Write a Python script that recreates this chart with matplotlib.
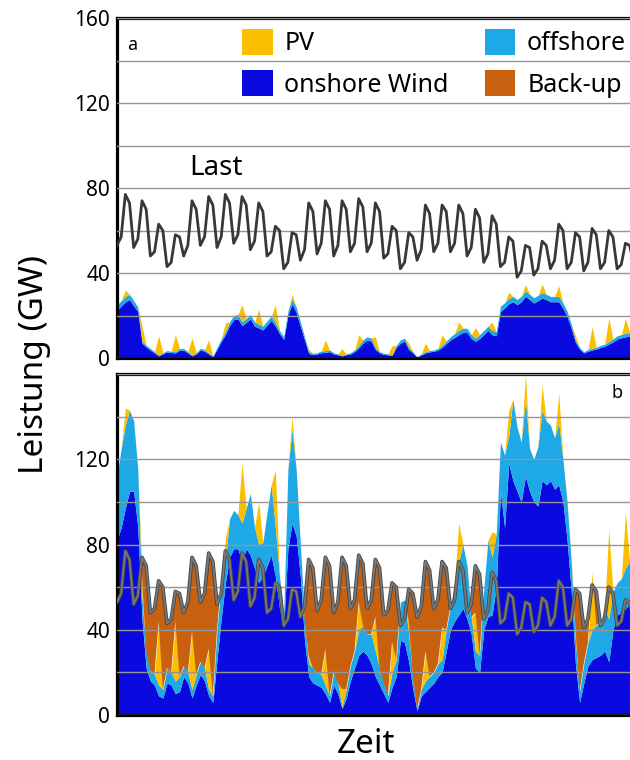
import numpy as np
import matplotlib.pyplot as plt
from matplotlib.patches import Patch
from matplotlib.ticker import MultipleLocator

plt.rcParams['font.family'] = ['Noto Sans', 'DejaVu Sans']

# 6-hourly values (00, 06, 12, 18 h), one row per day, GW
load = np.array([
    53, 57, 77, 73,  52, 56, 74, 70,  48, 50, 63, 60,  43, 45, 58, 57,
    48, 53, 74, 70,  53, 57, 76, 72,  52, 57, 77, 73,  54, 58, 76, 72,
    51, 55, 73, 69,  48, 50, 62, 60,  42, 45, 59, 58,  46, 51, 73, 69,
    49, 54, 74, 70,  48, 53, 74, 70,  50, 54, 75, 71,  50, 54, 73, 69,
    47, 49, 62, 60,  42, 45, 59, 57,  46, 51, 72, 68,  50, 54, 72, 69,
    50, 54, 72, 68,  48, 52, 70, 66,  45, 49, 67, 63,  43, 45, 57, 55,
    38, 41, 53, 52,  39, 42, 55, 53,  42, 46, 63, 60,  42, 45, 59, 57,
    41, 45, 61, 58,  42, 45, 60, 57,  42, 44, 54, 53,  44])

# panel a: today's wind and PV
onshore_a = np.array([
    22.5, 24.5, 26.5, 27.5,  24.5, 22, 7, 5.2,  3.7, 2.4, 1.0, 2.0,  2.9, 2.6, 2.4, 3.7,
    3.7, 2.4, 1.0, 2.0,  3.8, 3.2, 1.9, 0.6,  4.2, 7.8, 11.0, 15.2,  18, 18.5, 15.2, 16.7,
    18.5, 15, 14.2, 13.2,  15.5, 17.7, 15, 11.5,  8.8, 20, 25.5, 21.5,  15, 8.5, 2.2, 1.6,
    1.9, 2.5, 2.7, 3.0,  1.9, 1.5, 1.0, 1.5,  1.9, 3.0, 4.8, 7.0,  8.5, 7.9, 4.0, 2.4,
    1.7, 1.5, 1.3, 5.0,  7.0, 7.9, 4.0, 2.4,  0.4, 1.5, 2.4, 2.9,  3.2, 3.7, 5.0, 6.8,
    8.5, 9.7, 11, 12,  12, 9.2, 7.9, 9.2,  11, 13, 11, 10.5,  21.9, 23.5, 25.5, 26.5,
    25.1, 26.5, 29.1, 27.5,  25.9, 27, 28.3, 27.5,  26.5, 26.5, 26.5, 23.5,  19.5, 14, 7.4, 4.2,
    2.4, 3.2, 3.8, 4.2,  5, 5.5, 6.6, 7.5,  9, 9.5, 10, 10.2,  10.2])
offshore_a = np.array([
    2.5, 2.5, 2.5, 2.5,  2.5, 2, 1, 0.8,  0.8, 0.6, 0.5, 0.5,  0.6, 0.6, 0.6, 0.8,
    0.8, 0.6, 0.5, 0.5,  0.8, 0.8, 0.6, 0.4,  0.8, 1.2, 1.5, 1.8,  2, 2, 1.8, 1.8,
    2, 2, 1.8, 1.8,  2, 2, 2, 1.5,  1.2, 2, 2.5, 2.5,  2, 1.5, 0.8, 0.6,
    0.6, 0.8, 0.8, 0.8,  0.6, 0.5, 0.4, 0.5,  0.6, 0.8, 1.2, 1.5,  1.5, 1.5, 1, 0.6,
    0.5, 0.5, 0.4, 1,  1.5, 1.5, 1, 0.6,  0.2, 0.5, 0.6, 0.6,  0.6, 0.8, 1, 1.2,
    1.5, 1.8, 2, 2,  2, 1.8, 1.5, 1.8,  2, 2, 2, 2,  2.5, 2.5, 2.5, 2.5,
    2.5, 2.5, 2.5, 2.5,  2.5, 2.5, 2.5, 2.5,  2.5, 2.5, 2.5, 2.5,  2.5, 2, 1.2, 0.8,
    0.6, 0.8, 0.8, 0.8,  1, 1, 1.2, 1.5,  1.5, 1.5, 1.7, 1.8,  1.8])
pv_a_noon = [3, 7, 9, 8, 8, 6, 4, 8, 7, 8, 2, 1, 5, 3, 5, 5,
             4, 2, 4, 5, 4, 5, 4, 3, 3, 4, 5, 2, 10, 11, 7]

# panel b: scaled-up scenario
onshore_b = np.array([
    82, 88, 97, 105,  105, 88, 45, 22,  16, 14, 9, 8,  15, 14, 10, 11,
    18, 15, 8, 14,  19, 16, 9, 6,  26, 45, 62, 74,  78, 78, 72, 78,
    75, 69, 62, 65,  70, 75, 65, 50,  41, 78, 90, 84,  65, 35, 18, 15,
    14, 13, 10, 6,  14, 10, 3, 8,  16, 22, 28, 30,  28, 24, 18, 14,
    10, 6, 13, 18,  35, 34, 25, 12,  2, 9, 11, 13,  15, 18, 20, 30,
    40, 44, 47, 50,  45, 38, 22, 20,  40, 46, 47, 60,  105, 88, 118, 110,
    105, 100, 112, 105,  100, 98, 110, 108,  110, 106, 108, 100,  82, 58, 24, 6,
    15, 23, 26, 27,  28, 30, 25, 40,  47, 48, 50, 52,  55])
offshore_b = np.array([
    30, 37, 39, 38,  33, 27, 10, 8,  5, 5, 5, 4,  7, 6, 6, 7,
    5, 5, 4, 5,  6, 6, 3, 3,  14, 17, 10, 18,  18, 16, 18, 19,
    29, 19, 18, 16,  25, 33, 23, 15,  6, 37, 44, 31,  15, 10, 6, 7,
    6, 6, 4, 3,  6, 5, 1, 4,  7, 8, 12, 12,  10, 14, 12, 8,
    5, 3, 7, 8,  18, 20, 13, 6,  1, 3, 5, 5,  5, 6, 6, 10,
    11, 18, 25, 30,  25, 8, 8, 8,  19, 36, 27, 25,  23, 34, 13, 38,
    30, 28, 36, 20,  20, 28, 33, 30,  26, 24, 29, 20,  18, 14, 11, 5,
    9, 11, 14, 15,  16, 20, 20, 18,  15, 16, 19, 20,  17])
pv_b_noon = [8, 10, 30, 28, 27, 19, 11, 28, 20, 27, 6, 4, 17, 8, 13, 16,
             14, 6, 14, 15, 18, 18, 12, 12, 12, 12, 14, 6, 27, 42, 26]

t = np.arange(len(load)) * 0.25
pv_a = np.zeros(len(load))
pv_a[2::4] = pv_a_noon
pv_b = np.zeros(len(load))
pv_b[2::4] = pv_b_noon

c_pv = '#FBBF00'
c_off = '#1EA9E6'
c_on = '#0A0AE0'
c_bu = '#C8610F'

fig = plt.figure(figsize=(6.3, 7.6), dpi=100)
ax_a = fig.add_axes([0.1857, 0.5289, 0.8203, 0.4474])
ax_b = fig.add_axes([0.1857, 0.0592, 0.8203, 0.4487])


def stack(ax, on, off, pv):
    s1 = on
    s2 = on + off
    s3 = s2 + pv
    ax.fill_between(t, 0, s1, color=c_on, lw=0)
    ax.fill_between(t, s1, s2, color=c_off, lw=0)
    ax.fill_between(t, s2, s3, color=c_pv, lw=0)
    return s3


stack(ax_a, onshore_a, offshore_a, pv_a)
ax_a.plot(t, load, color='#383838', lw=2.0, zorder=3, solid_joinstyle='round')

tot_b = stack(ax_b, onshore_b, offshore_b, pv_b)
ax_b.fill_between(t, tot_b, load, where=load > tot_b, interpolate=True,
                  color=c_bu, lw=0)
ax_b.plot(t, load, color='#454545', lw=2.6, zorder=3, solid_joinstyle='round')
ax_b.plot(t, load, color='#777777', lw=1.4, zorder=3.1, solid_joinstyle='round')

for ax in (ax_a, ax_b):
    ax.set_xlim(0, 31)
    ax.set_ylim(0, 160)
    ax.yaxis.set_minor_locator(MultipleLocator(20))
    ax.grid(axis='y', which='both', color='#959595', lw=1.0)
    ax.set_axisbelow(False)
    ax.set_xticks([])
    ax.tick_params(axis='y', which='both', length=0, labelsize=15, pad=5)
    for s in ax.spines.values():
        s.set_linewidth(2.3)
        s.set_color('black')

ax_a.set_yticks([0, 40, 80, 120, 160])
ax_b.set_yticks([0, 40, 80, 120])

ax_a.text(0.029, 0.92, 'a', transform=ax_a.transAxes, fontsize=13,
          ha='center', va='center')
ax_b.text(0.967, 0.944, 'b', transform=ax_b.transAxes, fontsize=13,
          ha='center', va='center')
ax_a.text(5.95, 89.5, 'Last', fontsize=20, ha='center', va='center')

handles = [Patch(facecolor=c_pv, edgecolor='none', label='PV'),
           Patch(facecolor=c_on, edgecolor='none', label='onshore Wind'),
           Patch(facecolor=c_off, edgecolor='none', label='offshore'),
           Patch(facecolor=c_bu, edgecolor='none', label='Back-up')]
fig.legend(handles=handles, ncol=2, frameon=False, fontsize=18,
           loc='upper left', bbox_to_anchor=(242 / 630, 1 - 29 / 760),
           borderpad=0, borderaxespad=0, handlelength=1.22, handleheight=1.22,
           handletextpad=0.47, columnspacing=1.45, labelspacing=0.55)

fig.text(0.055, 0.52, 'Leistung (GW)', rotation=90, fontsize=24,
         ha='center', va='center')
fig.text(0.581, 0.02, 'Zeit', fontsize=24, ha='center', va='center')

fig.savefig('out.png', dpi=100)
